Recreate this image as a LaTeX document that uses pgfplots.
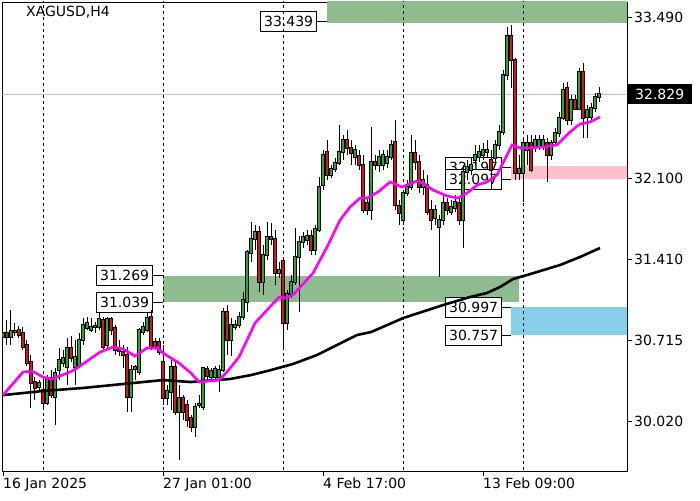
\documentclass[border=0pt]{standalone}
\usepackage{pgfplots}
\pgfplotsset{compat=1.18}
\usepackage{pgfplotstable}
\usepackage{fontspec}
\setmainfont{DejaVu Sans}
\definecolor{cgreen}{RGB}{40,170,40}
\definecolor{cred}{RGB}{220,20,20}
\definecolor{zgreen}{RGB}{143,188,143}
\definecolor{zpink}{RGB}{255,192,203}
\definecolor{zblue}{RGB}{135,206,235}
\definecolor{mag}{RGB}{255,0,255}

% bullish candles: x open high low close
\pgfplotstableread{
x o h l c
0 30.741 30.904 30.672 30.776
2 30.741 30.973 30.672 30.793
3 30.784 30.861 30.750 30.793
9 30.312 30.372 30.286 30.346
11 30.174 30.415 30.157 30.389
13 30.226 30.475 29.985 30.432
14 30.458 30.647 30.372 30.544
15 30.518 30.630 30.484 30.561
16 30.484 30.733 30.329 30.647
18 30.484 30.715 30.329 30.569
19 30.501 30.776 30.475 30.715
20 30.715 30.904 30.672 30.844
21 30.819 30.913 30.801 30.861
22 30.801 30.904 30.784 30.827
23 30.827 30.870 30.776 30.836
24 30.827 30.956 30.801 30.896
26 30.672 30.913 30.647 30.896
32 30.226 30.501 30.097 30.458
33 30.466 30.501 30.372 30.484
34 30.441 30.819 30.415 30.801
35 30.784 30.870 30.758 30.827
36 30.801 30.956 30.784 30.904
41 30.217 30.329 30.157 30.277
42 30.269 30.544 30.114 30.484
44 30.097 30.329 29.685 30.217
48 29.968 30.174 29.882 30.140
49 30.157 30.243 30.131 30.166
50 30.140 30.484 30.114 30.475
52 30.398 30.475 30.372 30.449
53 30.398 30.492 30.372 30.466
54 30.398 30.501 30.269 30.458
55 30.458 30.990 30.441 30.956
57 30.715 30.904 30.578 30.844
58 30.827 30.887 30.801 30.844
59 30.844 30.956 30.819 30.913
60 30.913 31.128 30.887 31.059
61 31.042 31.489 30.956 31.471
62 31.463 31.729 31.385 31.583
63 31.583 31.703 31.489 31.643
65 31.214 31.531 31.102 31.446
66 31.446 31.729 31.403 31.600
69 31.291 31.385 31.248 31.317
71 30.861 31.145 30.801 31.111
72 31.111 31.274 31.076 31.214
73 31.214 31.678 31.188 31.428
74 31.428 31.609 30.956 31.557
75 31.557 31.643 31.506 31.600
76 31.574 31.660 31.531 31.609
78 31.489 31.703 31.446 31.669
79 31.660 32.116 31.643 32.030
80 32.047 32.348 32.004 32.305
82 32.133 32.219 32.107 32.184
83 32.184 32.279 32.159 32.236
84 32.236 32.562 32.219 32.330
85 32.330 32.476 32.262 32.433
88 32.287 32.390 32.219 32.348
92 31.832 32.545 31.746 32.244
94 32.219 32.348 32.159 32.287
95 32.219 32.348 32.176 32.305
96 32.236 32.348 32.193 32.287
97 32.287 32.433 32.262 32.390
100 31.746 32.004 31.703 31.978
101 31.978 32.090 31.952 32.030
102 32.030 32.476 32.004 32.322
105 32.030 32.176 31.961 32.090
108 31.763 31.875 31.703 31.832
109 31.686 31.789 31.257 31.746
110 31.746 31.961 31.703 31.892
112 31.815 31.918 31.789 31.858
113 31.849 31.961 31.815 31.901
115 31.746 32.219 31.506 32.159
116 32.159 32.262 32.090 32.202
117 32.176 32.279 32.133 32.219
118 32.262 32.390 32.219 32.305
119 32.287 32.390 32.245 32.330
120 32.305 32.408 32.262 32.348
121 32.330 32.433 32.279 32.348
123 32.279 32.433 32.219 32.390
124 32.390 32.562 32.348 32.502
125 32.502 33.035 32.476 32.992
126 32.992 33.404 32.949 33.327
129 32.150 32.305 32.090 32.184
130 32.150 32.433 31.901 32.408
131 32.348 32.476 32.219 32.408
133 32.373 32.476 32.330 32.433
134 32.373 32.476 32.348 32.433
135 32.373 32.476 32.348 32.433
137 32.305 32.433 32.262 32.408
138 32.416 32.537 32.390 32.494
139 32.494 32.674 32.459 32.622
140 32.622 32.923 32.605 32.863
142 32.605 32.820 32.562 32.777
144 32.700 33.052 32.690 33.018
146 32.631 32.734 32.451 32.691
147 32.631 32.751 32.605 32.708
148 32.708 32.837 32.674 32.803
149 32.803 32.889 32.760 32.829
}\upc

% bearish candles: x open high low close
\pgfplotstableread{
x o h l c
1 30.776 30.887 30.672 30.741
4 30.801 30.836 30.733 30.758
5 30.776 30.827 30.630 30.655
6 30.672 30.715 30.492 30.518
7 30.526 30.587 30.131 30.346
8 30.355 30.398 30.200 30.303
10 30.286 30.372 30.131 30.174
12 30.389 30.458 30.217 30.243
17 30.647 30.750 30.526 30.561
25 30.887 30.913 30.630 30.655
27 30.896 30.913 30.758 30.801
28 30.819 30.844 30.587 30.630
29 30.638 30.715 30.578 30.621
30 30.612 30.672 30.475 30.587
31 30.587 30.655 30.097 30.226
37 30.913 30.973 30.630 30.655
38 30.698 30.733 30.630 30.655
39 30.698 30.733 30.587 30.612
40 30.526 30.672 30.157 30.217
43 30.484 30.544 30.071 30.097
45 30.217 30.243 30.028 30.097
46 30.157 30.200 29.968 30.028
47 30.045 30.071 29.925 29.968
51 30.466 30.492 30.372 30.406
56 30.956 31.016 30.587 30.715
64 31.643 31.695 31.128 31.214
67 31.600 31.720 31.531 31.583
68 31.583 31.660 31.188 31.291
70 31.394 31.420 30.655 30.861
77 31.609 31.660 31.446 31.489
81 32.330 32.433 32.090 32.133
86 32.433 32.519 32.305 32.365
87 32.365 32.433 32.219 32.322
89 32.296 32.348 32.176 32.219
90 32.219 32.305 31.806 31.832
91 31.892 31.935 31.789 31.832
93 32.244 32.305 32.176 32.219
98 32.416 32.605 31.832 31.875
99 31.867 31.918 31.703 31.806
103 32.322 32.433 32.176 32.244
104 32.244 32.305 31.978 32.030
106 32.047 32.133 31.789 31.815
107 31.832 31.918 31.660 31.746
111 31.892 31.935 31.789 31.832
114 31.892 31.935 31.703 31.746
122 32.262 32.348 32.004 32.176
127 33.327 33.421 32.880 33.121
128 33.121 33.138 32.090 32.150
132 32.408 32.476 32.159 32.176
136 32.408 32.451 32.073 32.305
141 32.880 32.932 32.562 32.605
143 32.777 32.820 32.690 32.700
145 33.018 33.095 32.451 32.622
}\downc

\pgfplotstableread{
x y
0 30.243
5 30.441
7.25 30.449
10 30.398
12.25 30.381
16.75 30.441
18.5 30.475
24.25 30.612
27.5 30.656
30 30.639
33 30.578
36 30.647
38.5 30.647
40 30.604
42 30.561
44 30.518
47 30.432
49 30.355
54 30.372
56 30.441
59 30.570
61 30.716
63 30.862
66 30.973
69 31.085
70.5 31.076
72.5 31.102
77.5 31.291
81 31.514
84.25 31.746
86.75 31.858
89.25 31.935
91 31.935
93.75 31.987
96.75 32.073
99.75 32.030
103.5 32.081
105 32.064
107.5 32.004
111 31.953
113.75 31.935
116 31.978
118.5 32.047
121 32.073
123.5 32.133
125 32.236
127.25 32.391
129.25 32.365
131 32.365
135 32.373
138.5 32.391
141.75 32.502
144.25 32.571
146.75 32.588
149.25 32.631
}\fastma

\pgfplotstableread{
x y
0 30.243
10 30.278
20 30.304
30 30.338
40 30.372
47 30.355
50 30.364
56.75 30.381
62 30.415
67 30.458
72.5 30.510
78.5 30.587
81 30.630
88.5 30.759
92 30.784
96 30.844
100 30.904
110 31.016
116.75 31.085
121 31.120
124.25 31.171
127.5 31.240
131 31.274
139.25 31.360
144.25 31.429
149.25 31.506
}\slowma

\begin{document}
\begin{tikzpicture}[font=\fontsize{14}{16}\selectfont]
\path[use as bounding box] (-2.5pt,-29pt) rectangle (697.5pt,471pt);
\begin{axis}[
  at={(0pt,0pt)}, anchor=south west,
  scale only axis, width=624.5pt, height=469pt,
  xmin=-0.125, xmax=156, ymin=29.591, ymax=33.619,
  axis line style={line width=0.8pt, black},
  xtick={0,40,80,120},
  xticklabels={16 Jan 2025,27 Jan 01:00,4 Feb 17:00,13 Feb 09:00},
  ytick={30.02,30.715,31.41,32.1,33.49},
  yticklabels={30.020,30.715,31.410,32.100,33.490},
  xtick pos=left, ytick pos=right, yticklabel pos=right,
  tick align=outside, major tick length=5pt,
  tick style={black, line width=0.8pt},
  xticklabel style={anchor=north west, inner sep=0pt, yshift=-2pt, font=\fontsize{14}{16}\selectfont},
  yticklabel style={anchor=west, inner sep=0pt, xshift=2pt, font=\fontsize{14}{16}\selectfont},
  clip=true,
  candle/.style={draw=none, mark=none, forget plot, error bars/.cd, y dir=minus, y explicit, error mark=none},
]
% zones
\addplot[draw=none, fill=zgreen, forget plot] coordinates {(81,33.439) (157,33.439) (157,33.8) (81,33.8)} -- cycle;
\addplot[draw=none, fill=zgreen, forget plot] coordinates {(40,31.039) (129,31.039) (129,31.269) (40,31.269)} -- cycle;
\addplot[draw=none, fill=zpink, forget plot] coordinates {(127,32.097) (157,32.097) (157,32.207) (127,32.207)} -- cycle;
\addplot[draw=none, fill=zblue, forget plot] coordinates {(127,30.757) (157,30.757) (157,30.997) (127,30.997)} -- cycle;

% level labels
\tikzset{lvl/.style={draw=black, fill=white, line width=0.8pt, anchor=east, inner xsep=3.5pt, inner ysep=4.5pt, font=\fontsize{14}{16}\selectfont}}
\draw[line width=0.8pt] (axis cs:78.5,33.450) -- (axis cs:81,33.450);
\node[lvl] at (axis cs:78.5,33.450) {33.439};
\draw[line width=0.8pt] (axis cs:37.5,31.269) -- (axis cs:40,31.269);
\node[lvl] at (axis cs:37.5,31.269) {31.269};
\draw[line width=0.8pt] (axis cs:37.5,31.039) -- (axis cs:40,31.039);
\node[lvl] at (axis cs:37.5,31.039) {31.039};
\draw[line width=0.8pt] (axis cs:124.75,32.197) -- (axis cs:127,32.197);
\node[lvl] at (axis cs:124.75,32.197) {32.197};
\draw[line width=0.8pt] (axis cs:124.75,32.097) -- (axis cs:127,32.097);
\node[lvl] at (axis cs:124.75,32.097) {32.097};
\draw[line width=0.8pt] (axis cs:124.75,30.997) -- (axis cs:127,30.997);
\node[lvl] at (axis cs:124.75,30.997) {30.997};
\draw[line width=0.8pt] (axis cs:124.75,30.757) -- (axis cs:127,30.757);
\node[lvl] at (axis cs:124.75,30.757) {30.757};

% period separators
\addplot[black, line width=0.8pt, dash pattern=on 3pt off 3pt, forget plot] coordinates {(10,29.5) (10,33.7)};
\addplot[black, line width=0.8pt, dash pattern=on 3pt off 3pt, forget plot] coordinates {(40,29.5) (40,33.7)};
\addplot[black, line width=0.8pt, dash pattern=on 3pt off 3pt, forget plot] coordinates {(70,29.5) (70,33.7)};
\addplot[black, line width=0.8pt, dash pattern=on 3pt off 3pt, forget plot] coordinates {(100,29.5) (100,33.7)};
\addplot[black, line width=0.8pt, dash pattern=on 3pt off 3pt, forget plot] coordinates {(130,29.5) (130,33.7)};
% bid line
\addplot[black!25, line width=0.8pt, forget plot] coordinates {(-1,32.829) (157,32.829)};

% wicks
\addplot[candle, error bar style={draw=black, line width=1pt}]
  table[x=x, y=h, y error minus expr=\thisrow{h}-\thisrow{l}] {\upc};
\addplot[candle, error bar style={draw=black, line width=1pt}]
  table[x=x, y=h, y error minus expr=\thisrow{h}-\thisrow{l}] {\downc};
% body outlines
\addplot[candle, error bar style={draw=black, line width=3.3pt}]
  table[x=x, y expr=\thisrow{c}+0.007, y error minus expr=\thisrow{c}-\thisrow{o}+0.014] {\upc};
\addplot[candle, error bar style={draw=black, line width=3.3pt}]
  table[x=x, y expr=\thisrow{o}+0.007, y error minus expr=\thisrow{o}-\thisrow{c}+0.014] {\downc};
% body fills
\addplot[candle, error bar style={draw=cgreen, line width=1.5pt}]
  table[x=x, y=c, y error minus expr=\thisrow{c}-\thisrow{o}] {\upc};
\addplot[candle, error bar style={draw=cred, line width=1.5pt}]
  table[x=x, y=o, y error minus expr=\thisrow{o}-\thisrow{c}] {\downc};

% moving averages
\addplot[black, line width=2.6pt, forget plot] table[x=x, y=y] {\slowma};
\addplot[mag, line width=2.6pt, forget plot] table[x=x, y=y] {\fastma};

\coordinate (cp) at (axis cs:156,32.829);
\end{axis}
\node[fill=black, text=white, anchor=west, inner xsep=7.5pt, inner ysep=4.5pt, font=\fontsize{14}{16}\selectfont] at ([xshift=0.5pt]cp) {32.829};
\node[anchor=west, inner sep=0pt, font=\fontsize{14}{16}\selectfont] at (23.5pt,459pt) {XAGUSD,H4};
\end{tikzpicture}
\end{document}
